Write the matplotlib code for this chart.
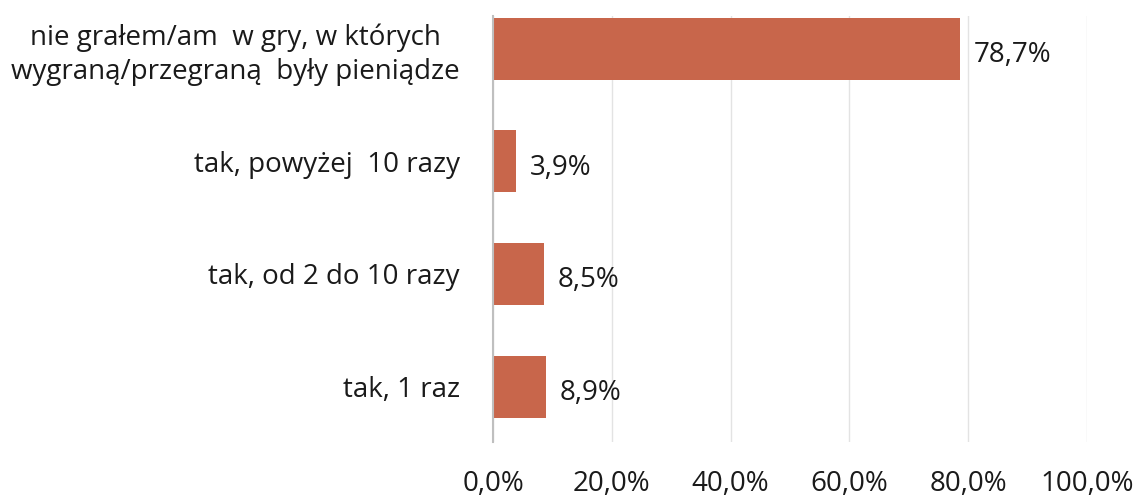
from matplotlib import pyplot as plt
from matplotlib.ticker import FuncFormatter, MultipleLocator

categories = [
    'nie grałem/am  w gry, w których\nwygraną/przegraną  były pieniądze',
    'tak, powyżej  10 razy',
    'tak, od 2 do 10 razy',
    'tak, 1 raz',
]
values = [78.7, 3.9, 8.5, 8.9]

plt.rcParams['font.family'] = ['Open Sans', 'DejaVu Sans']

fig = plt.figure(figsize=(11.44, 4.97), dpi=100)
ax = fig.add_axes([0.431, 0.111, 0.519, 0.857])

ypos = list(range(len(categories)))
ax.barh(ypos, values, height=0.55, color='#C8664B', zorder=2)

for y, v in zip(ypos, values):
    ax.annotate(f'{v:.1f}%'.replace('.', ','), xy=(v, y), xytext=(10, -4.5),
                textcoords='offset points', ha='left', va='center',
                fontsize=20, color='#1a1a1a')

ax.set_xlim(0, 100)
ax.set_ylim(3.49, -0.29)
ax.xaxis.set_major_locator(MultipleLocator(20))
ax.xaxis.set_major_formatter(FuncFormatter(lambda x, p: f'{x:.1f}%'.replace('.', ',')))
ax.set_yticks(ypos)
ax.set_yticklabels(categories, fontsize=20, color='#1a1a1a', multialignment='center',
                   linespacing=1.25)
ax.tick_params(axis='y', length=0, pad=24)
ax.tick_params(axis='x', length=0, pad=20, labelsize=20, labelcolor='#1a1a1a')
ax.grid(axis='x', color='#E3E3E3', linewidth=1, zorder=0)
for s in ['top', 'right', 'bottom']:
    ax.spines[s].set_visible(False)
ax.spines['left'].set_color('#BFBFBF')
ax.spines['left'].set_linewidth(1.5)
ax.spines['left'].set_zorder(3)

fig.savefig('out.png', dpi=100)
